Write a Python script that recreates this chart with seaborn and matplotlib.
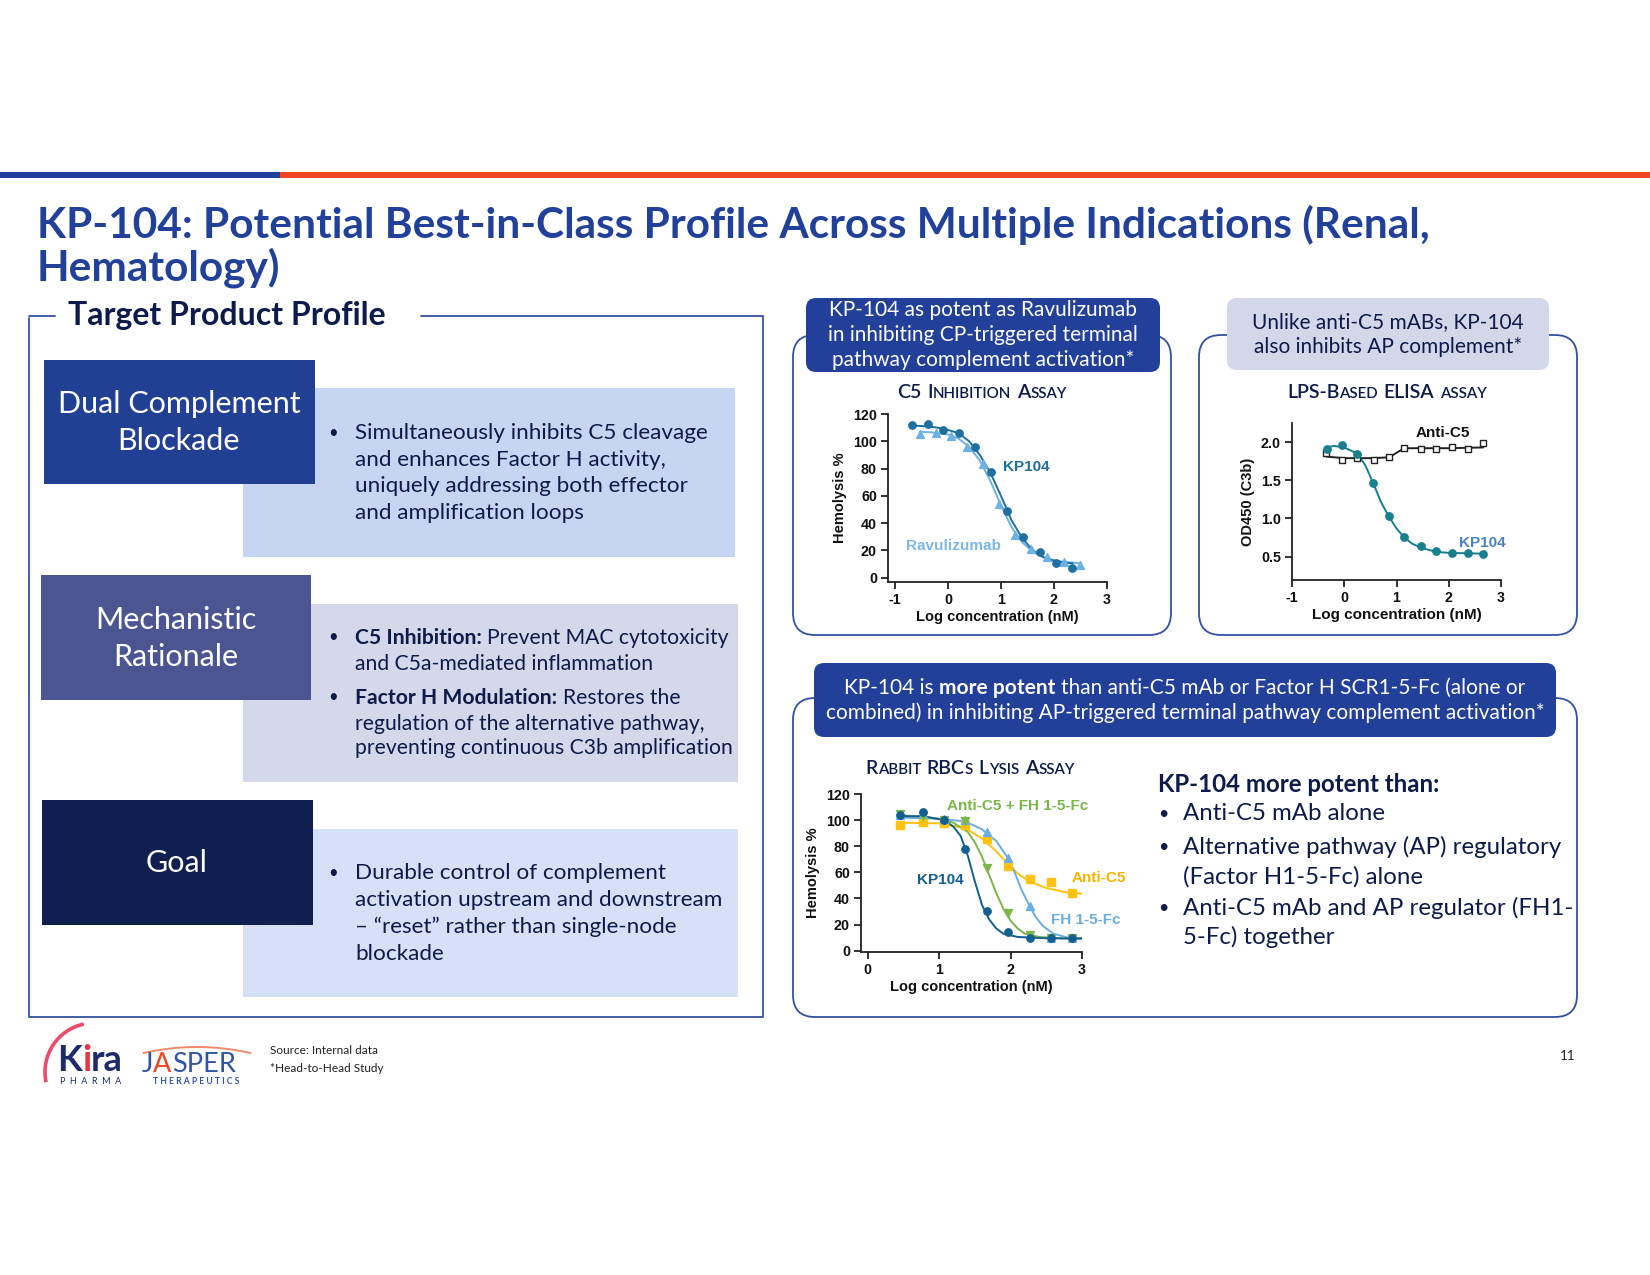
import matplotlib
matplotlib.use("Agg")
import matplotlib.pyplot as plt
from matplotlib.patches import FancyBboxPatch, Rectangle, Arc
import seaborn as sns

sns.set_theme(style="white")

SLIDE_FONT = ["Lato", "DejaVu Sans"]
CHART_FONT = ["Liberation Sans", "DejaVu Sans"]
plt.rcParams["font.family"] = SLIDE_FONT

W, H = 1650, 1275

NAVY = "#0d1b4b"
BLUE = "#21409a"
ORANGE = "#ee4722"
FRAME = "#3152a3"

# ---- C5 inhibition assay (CP triggered) ----
c5_kp104_x = [-0.67, -0.37, -0.10, 0.21, 0.51, 0.81, 1.12, 1.42, 1.73, 2.03, 2.34]
c5_kp104_y = [112.1, 112.6, 108.0, 106.0, 95.5, 77.3, 48.8, 29.7, 18.9, 10.8, 7.4]
c5_rav_x = [-0.52, -0.22, 0.05, 0.36, 0.66, 0.96, 1.27, 1.57, 1.87, 2.18, 2.49]
c5_rav_y = [105.0, 106.0, 104.0, 96.0, 83.5, 54.0, 31.0, 21.0, 15.5, 11.5, 9.0]
c5_kp104_fit_x = [-0.67, -0.4, -0.1, 0.2, 0.4, 0.6, 0.8, 1.0, 1.2, 1.4, 1.6, 1.8, 2.0, 2.2, 2.35]
c5_kp104_fit_y = [111.5, 111.0, 109.5, 106.0, 100.0, 90.0, 77.0, 60.0, 42.0, 29.0, 20.0, 15.0, 12.5, 11.0, 10.5]
c5_rav_fit_x = [-0.52, -0.3, 0.0, 0.2, 0.4, 0.6, 0.8, 1.0, 1.2, 1.4, 1.6, 1.8, 2.0, 2.2, 2.5]
c5_rav_fit_y = [107.0, 106.5, 105.0, 102.0, 96.0, 86.0, 71.0, 53.0, 37.0, 26.0, 19.0, 15.0, 12.5, 11.5, 10.5]
c5_xticks = [-1, 0, 1, 2, 3]
c5_yticks = [0, 20, 40, 60, 80, 100, 120]

# ---- LPS-based ELISA assay (AP) ----
elisa_kp104_x = [-0.33, -0.04, 0.25, 0.55, 0.85, 1.15, 1.46, 1.76, 2.06, 2.36, 2.66]
elisa_kp104_y = [1.91, 1.96, 1.85, 1.46, 1.03, 0.76, 0.64, 0.57, 0.55, 0.55, 0.53]
elisa_antic5_x = [-0.34, -0.05, 0.25, 0.56, 0.86, 1.15, 1.46, 1.76, 2.06, 2.36, 2.66]
elisa_antic5_y = [1.86, 1.77, 1.79, 1.77, 1.81, 1.92, 1.91, 1.91, 1.93, 1.91, 1.99]
elisa_kp104_fit_x = [-0.34, -0.2, 0.0, 0.25, 0.4, 0.55, 0.7, 0.85, 1.0, 1.15, 1.3, 1.5, 1.75, 2.0, 2.66]
elisa_kp104_fit_y = [1.93, 1.95, 1.93, 1.85, 1.70, 1.47, 1.22, 1.03, 0.87, 0.75, 0.67, 0.61, 0.565, 0.55, 0.54]
elisa_antic5_fit_x = [-0.34, 0.0, 0.5, 0.86, 1.0, 1.15, 2.0, 2.66]
elisa_antic5_fit_y = [1.81, 1.79, 1.79, 1.80, 1.86, 1.92, 1.92, 1.93]
elisa_xticks = [-1, 0, 1, 2, 3]
elisa_yticks = [0.5, 1.0, 1.5, 2.0]
elisa_ytick_labels = ["0.5", "1.0", "1.5", "2.0"]

# ---- Rabbit RBCs lysis assay (AP) ----
rbc_x = [0.45, 0.78, 1.07, 1.36, 1.67, 1.97, 2.27, 2.57, 2.86, 3.16]
rbc_kp104_y = [103.7, 106.0, 100.0, 77.9, 30.4, 14.0, 9.4, 9.4, 9.4, 8.9]
rbc_combo_y = [104.7, 103.0, 100.0, 99.0, 63.3, 28.8, 12.3, 9.4, 9.4, 9.4]
rbc_fh_y = [104.0, 105.0, 100.8, 100.0, 90.6, 71.0, 34.5, 9.4, 9.4, 8.5]
rbc_antic5_y = [96.2, 98.5, 98.0, 96.2, 85.5, 64.8, 54.9, 52.3, 44.2, 38.3]
rbc_kp104_fit_x = [0.45, 0.78, 1.07, 1.2, 1.3, 1.4, 1.5, 1.6, 1.7, 1.8, 1.9, 2.1, 2.5, 3.16]
rbc_kp104_fit_y = [103.0, 103.0, 100.0, 95.0, 88.0, 73.0, 53.0, 35.0, 24.0, 17.0, 13.0, 10.5, 9.5, 9.2]
rbc_combo_fit_x = [0.45, 1.0, 1.2, 1.4, 1.5, 1.6, 1.7, 1.8, 1.9, 2.0, 2.1, 2.2, 2.4, 2.7, 3.16]
rbc_combo_fit_y = [104.0, 101.0, 98.0, 91.0, 83.0, 72.0, 58.0, 44.0, 32.0, 23.0, 17.0, 13.0, 10.5, 9.6, 9.4]
rbc_fh_fit_x = [0.45, 1.0, 1.36, 1.6, 1.8, 1.95, 2.05, 2.15, 2.25, 2.35, 2.45, 2.6, 2.8, 3.16]
rbc_fh_fit_y = [102.0, 101.0, 99.0, 93.0, 84.0, 72.0, 61.0, 47.0, 36.0, 26.0, 19.0, 13.0, 10.0, 9.0]
rbc_antic5_fit_x = [0.45, 1.0, 1.36, 1.6, 1.8, 1.97, 2.1, 2.27, 2.5, 2.8, 3.16]
rbc_antic5_fit_y = [98.0, 97.5, 94.0, 86.0, 76.0, 66.0, 59.0, 53.0, 48.0, 44.5, 43.0]
rbc_xticks = [0, 1, 2, 3]
rbc_yticks = [0, 20, 40, 60, 80, 100, 120]

# ---- slide texts ----
title_lines = ["KP-104: Potential Best-in-Class Profile Across Multiple Indications (Renal,",
               "Hematology)"]
block1_lines = ["Simultaneously inhibits C5 cleavage", "and enhances Factor H activity,",
                "uniquely addressing both effector", "and amplification loops"]
block3_lines = ["Durable control of complement", "activation upstream and downstream",
                "\u2013 \u201creset\u201d rather than single-node", "blockade"]
header_a_lines = ["KP-104 as potent as Ravulizumab", "in inhibiting CP-triggered terminal",
                  "pathway complement activation*"]
header_b_lines = ["Unlike anti-C5 mABs, KP-104", "also inhibits AP complement*"]
potent_lines = [("Anti-C5 mAb alone", True), ("Alternative pathway (AP) regulatory", True),
                ("(Factor H1-5-Fc) alone", False), ("Anti-C5 mAb and AP regulator (FH1-", True),
                ("5-Fc) together", False)]

fig = plt.figure(figsize=(W / 100, H / 100), dpi=100)
bg = fig.add_axes([0, 0, 1, 1])
bg.set_xlim(0, W)
bg.set_ylim(H, 0)
bg.axis("off")

centered_groups = []


def rich(ax, x, y, parts, size, color, ha="left", family=None):
    """parts: (text, weight, size_scale, gap_pt, color or None)"""
    texts = []
    prev = None
    for txt, weight, scale, gap, col in parts:
        kw = dict(fontsize=size * scale, fontweight=weight, color=col or color)
        if family:
            kw["family"] = family
        if prev is None:
            t = ax.text(x, y, txt, va="baseline", ha="left", **kw)
        else:
            t = ax.annotate(txt, xy=(1, 0), xycoords=prev, xytext=(gap, 0),
                            textcoords="offset points", va="bottom", ha="left", **kw)
        texts.append(t)
        prev = t
    if ha == "center":
        centered_groups.append((x, texts))
    return texts


def smallcaps(words, size, weight="semibold"):
    parts = []
    for i, (big, small) in enumerate(words):
        gap = size * 0.3 if i > 0 else 0
        if big:
            parts.append((big, weight, 1.0, gap, None))
            if small:
                parts.append((small, weight, 0.78, 0, None))
        else:
            parts.append((small, weight, 0.78, gap, None))
    return parts


def rbox(x0, y0, x1, y1, r, fc, ec="none", lw=0, z=1):
    p = FancyBboxPatch((x0, y0), x1 - x0, y1 - y0, boxstyle=f"round,pad=0,rounding_size={r}",
                       fc=fc, ec=ec, lw=lw, zorder=z)
    bg.add_patch(p)


def rect(x0, y0, x1, y1, fc, z=1):
    bg.add_patch(Rectangle((x0, y0), x1 - x0, y1 - y0, fc=fc, ec="none", zorder=z))


# ---- header bar and title ----
rect(0, 172, 280, 178, BLUE)
rect(280, 172, W, 178, ORANGE)
bg.text(37, 238, title_lines[0], fontsize=30.5, fontweight="bold", color=BLUE, va="baseline")
bg.text(37, 281, title_lines[1], fontsize=30.5, fontweight="bold", color=BLUE, va="baseline")

# ---- left Target Product Profile frame ----
bg.plot([29, 29, 763, 763, 421], [318, 1017, 1017, 316, 316], color=FRAME, lw=1.3)
bg.plot([29, 55], [316, 316], color=FRAME, lw=1.3)
bg.text(68, 316, "Target Product Profile", fontsize=23, fontweight="bold", color=NAVY, va="center")

rect(243, 388, 735, 557, "#c8d5f2")
rect(44, 360, 315, 484, "#213f93", z=2)
bg.text(179, 404, "Dual Complement", fontsize=22, color="white", ha="center", va="center", zorder=3)
bg.text(179, 441, "Blockade", fontsize=22, color="white", ha="center", va="center", zorder=3)

rect(243, 604, 738, 782, "#d4d8ea")
rect(41, 575, 311, 700, "#4a5592", z=2)
bg.text(176, 620, "Mechanistic", fontsize=22, color="white", ha="center", va="center", zorder=3)
bg.text(176, 657, "Rationale", fontsize=22, color="white", ha="center", va="center", zorder=3)

rect(243, 829, 738, 997, "#d6e1f8")
rect(42, 800, 313, 925, "#0f1f50", z=2)
bg.text(177, 863, "Goal", fontsize=22, color="white", ha="center", va="center", zorder=3)

BODY = 16.2
BODY2 = 15.2
DOT = 12
for i, (ln, yy) in enumerate(zip(block1_lines, [433, 460, 486, 513])):
    if i == 0:
        bg.text(333, yy, "\u2022", fontsize=DOT, color=NAVY, va="center", ha="center")
    bg.text(355, yy, ln, fontsize=BODY, color=NAVY, va="center")

bg.text(333, 637, "\u2022", fontsize=DOT, color=NAVY, va="center", ha="center")
rich(bg, 355, 644, [("C5 Inhibition:", "bold", 1, 0, None),
                    ("Prevent MAC cytotoxicity", "normal", 1, 4, None)], BODY2, NAVY)
bg.text(355, 664, "and C5a-mediated inflammation", fontsize=BODY2, color=NAVY, va="center")
bg.text(333, 697, "\u2022", fontsize=DOT, color=NAVY, va="center", ha="center")
rich(bg, 355, 704, [("Factor H Modulation:", "bold", 1, 0, None),
                    ("Restores the", "normal", 1, 4, None)], BODY2, NAVY)
bg.text(355, 724, "regulation of the alternative pathway,", fontsize=BODY2, color=NAVY, va="center")
bg.text(355, 748, "preventing continuous C3b amplification", fontsize=BODY2, color=NAVY, va="center")

for i, (ln, yy) in enumerate(zip(block3_lines, [873, 900, 927, 954])):
    if i == 0:
        bg.text(333, yy, "\u2022", fontsize=DOT, color=NAVY, va="center", ha="center")
    bg.text(355, yy, ln, fontsize=BODY, color=NAVY, va="center")

# ---- right panels ----
rbox(793, 335, 1171, 635, 22, "none", FRAME, 1.3)
rbox(806, 298, 1160, 372, 10, "#22409a", z=2)
for ln, yy in zip(header_a_lines, [310, 335, 360]):
    bg.text(983, yy, ln, fontsize=15, color="white", ha="center", va="center", zorder=3)

rbox(1199, 335, 1577, 635, 22, "none", FRAME, 1.3)
rbox(1227, 298, 1549, 370, 10, "#d4d7ea", z=2)
for ln, yy in zip(header_b_lines, [322, 347]):
    bg.text(1388, yy, ln, fontsize=15, color=NAVY, ha="center", va="center", zorder=3)

rbox(793, 698, 1577, 1017, 22, "none", FRAME, 1.3)
rbox(814, 663, 1556, 737, 10, "#22409a", z=2)
hc = rich(bg, 1185, 694, [("KP-104 is", "normal", 1, 0, None), ("more potent", "bold", 1, 4, None),
                          ("than anti-C5 mAb or Factor H SCR1-5-Fc (alone or", "normal", 1, 4, None)],
          15, "white", ha="center")
for t in hc:
    t.set_zorder(3)
bg.text(1185, 713, "combined) in inhibiting AP-triggered terminal pathway complement activation*",
        fontsize=15, color="white", ha="center", va="center", zorder=3)

bg.text(1158, 784, "KP-104 more potent than:", fontsize=17.3, fontweight="bold", color=NAVY, va="center")
for (ln, bullet), yy in zip(potent_lines, [814, 847, 877, 908, 937]):
    if bullet:
        bg.text(1163, yy, "\u2022", fontsize=13, color=NAVY, va="center", ha="center")
    bg.text(1183, yy, ln, fontsize=17.3, color=NAVY, va="center")

# chart titles in small caps
CT = 14
rich(bg, 982, 398, smallcaps([("C5", ""), ("I", "NHIBITION"), ("A", "SSAY")], CT), CT, NAVY, ha="center")
rich(bg, 1387, 398, smallcaps([("LPS-B", "ASED"), ("ELISA", ""), ("", "ASSAY")], CT), CT, NAVY, ha="center")
rich(bg, 970, 774, smallcaps([("R", "ABBIT"), ("RBC", "S"), ("L", "YSIS"), ("A", "SSAY")], CT), CT, NAVY, ha="center")

# ---- footer logos and notes ----
bg.add_patch(Arc((94, 1072), 98, 98, theta1=168, theta2=258, color="#f04a6a", lw=2.6))
rich(bg, 57, 1071, [("K", "bold", 1, 0, "#1d2a6b"), ("i", "bold", 1, 0, "#e8334a"),
                    ("ra", "bold", 1, 0, "#1d2a6b")], 26, "#1d2a6b")
bg.text(91, 1082, "P  H  A  R  M  A", fontsize=6.5, color="#1d2a6b", ha="center", va="center")
bg.add_patch(Arc((197, 1288), 482, 482, theta1=257, theta2=283, color="#f08a6a", lw=1.4))
rich(bg, 142, 1072, [("J", "normal", 1, 0, "#2e55a8"), ("A", "normal", 1, 0, "#ee4722"),
                     ("SPER", "normal", 1, 0, "#2e55a8")], 19.5, "#2e55a8")
bg.text(196, 1082, "T H E R A P E U T I C S", fontsize=6.2, fontweight="bold", color="#2e55a8",
        ha="center", va="center")
bg.text(270, 1051, "Source: Internal data", fontsize=8.5, color="#222222", va="center")
bg.text(270, 1069, "*Head-to-Head Study", fontsize=8.5, color="#222222", va="center")
bg.text(1568, 1056, "11", fontsize=9.5, color="#222222", va="center", ha="center")


# ---- charts ----
def add_chart(left, right, top, bottom):
    ax = fig.add_axes([left / W, 1 - bottom / H, (right - left) / W, (bottom - top) / H])
    ax.patch.set_alpha(0)
    return ax


def style_chart(ax, xlim, ylim, xticks, yticks, ylabel, ytick_labels=None, xlabel_size=10.5):
    ax.set_xlim(xlim)
    ax.set_ylim(ylim)
    tk = dict(fontfamily=CHART_FONT, fontweight="bold", fontsize=10.3, color="#111111")
    ax.set_xticks(xticks, labels=[str(v) for v in xticks], **tk)
    ax.set_yticks(yticks, labels=ytick_labels or [str(v) for v in yticks], **tk)
    for side in ["top", "right"]:
        ax.spines[side].set_visible(False)
    for side in ["left", "bottom"]:
        ax.spines[side].set_color("#222222")
        ax.spines[side].set_linewidth(1.3)
    ax.tick_params(bottom=True, left=True, direction="out", length=5, width=1.3, color="#222222", pad=3)
    ax.set_xlabel("Log concentration (nM)", fontfamily=CHART_FONT, fontweight="bold",
                  fontsize=xlabel_size, color="#111111", labelpad=2)
    ax.set_ylabel(ylabel, fontfamily=CHART_FONT, fontweight="bold", fontsize=10.5, color="#111111", labelpad=4)
    ax.grid(False)


def series(ax, px, py, fx, fy, color, marker, s=28, face=None):
    sns.lineplot(x=fx, y=fy, color=color, lw=1.4, ax=ax, sort=False, zorder=2)
    sns.scatterplot(x=px, y=py, color=face or color, marker=marker, s=s, ax=ax,
                    edgecolor=color, linewidth=1.0, zorder=3)


def label(ax, x, y, s, color):
    ax.text(x, y, s, fontfamily=CHART_FONT, fontweight="bold", fontsize=11, color=color, va="center")


ax1 = add_chart(888, 1107, 414, 582)
series(ax1, c5_rav_x, c5_rav_y, c5_rav_fit_x, c5_rav_fit_y, "#6cb2e6", "^", s=32)
series(ax1, c5_kp104_x, c5_kp104_y, c5_kp104_fit_x, c5_kp104_fit_y, "#1f6f9f", "o")
style_chart(ax1, (-1.13, 3), (-3.2, 120), c5_xticks, c5_yticks, "Hemolysis %")
label(ax1, 1.04, 81, "KP104", "#1f6f9f")
label(ax1, -0.79, 23, "Ravulizumab", "#7ab8e8")

ax2 = add_chart(1292, 1501, 423, 580)
series(ax2, elisa_antic5_x, elisa_antic5_y, elisa_antic5_fit_x, elisa_antic5_fit_y, "#222222", "s",
       s=22, face="white")
series(ax2, elisa_kp104_x, elisa_kp104_y, elisa_kp104_fit_x, elisa_kp104_fit_y, "#177f8d", "o")
style_chart(ax2, (-1, 3), (0.195, 2.25), elisa_xticks, elisa_yticks, "OD450 (C3b)",
            ytick_labels=elisa_ytick_labels, xlabel_size=11)
label(ax2, 1.37, 2.12, "Anti-C5", "#111111")
label(ax2, 2.2, 0.68, "KP104", "#4a84c6")

ax3 = add_chart(861, 1082, 794, 952)
series(ax3, rbc_x, rbc_antic5_y, rbc_antic5_fit_x, rbc_antic5_fit_y, "#ffc20e", "s", s=30)
series(ax3, rbc_x, rbc_fh_y, rbc_fh_fit_x, rbc_fh_fit_y, "#6aaee3", "^", s=32)
series(ax3, rbc_x, rbc_combo_y, rbc_combo_fit_x, rbc_combo_fit_y, "#7ab648", "v", s=32)
series(ax3, rbc_x, rbc_kp104_y, rbc_kp104_fit_x, rbc_kp104_fit_y, "#135f92", "o")
style_chart(ax3, (-0.094, 3), (-1, 120), rbc_xticks, rbc_yticks, "Hemolysis %")
label(ax3, 1.11, 111, "Anti-C5 + FH 1-5-Fc", "#7ab648")
label(ax3, 0.69, 54, "KP104", "#135f92")
label(ax3, 2.85, 56, "Anti-C5", "#f5b400")
label(ax3, 2.56, 23.5, "FH 1-5-Fc", "#6aaee3")

# centre the mixed-style lines now that their widths are known
fig.canvas.draw()
for x, texts in centered_groups:
    x0 = texts[0].get_window_extent().x0
    x1 = texts[-1].get_window_extent().x1
    texts[0].set_x(x - (x1 - x0) / 2)

fig.savefig("out.png", dpi=100)
plt.close(fig)
